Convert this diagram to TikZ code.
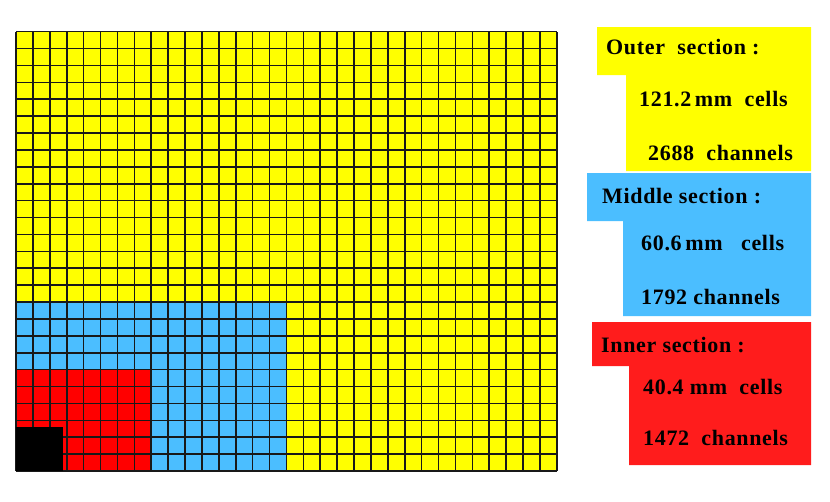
\documentclass[tikz,border=0pt]{standalone}
\usepackage{fontspec}
\setmainfont{Liberation Serif}
\newfontfamily\lblfont[LetterSpace=3]{Liberation Serif}
\definecolor{cyel}{RGB}{255,255,0}
\definecolor{cblu}{RGB}{75,190,255}
\definecolor{cred}{RGB}{255,0,0}
\definecolor{lred}{RGB}{255,28,28}
\begin{document}
\begin{tikzpicture}[x=1pt,y=-1pt,
  gl/.style={line width=1.6pt,black!90},
  lbl/.style={anchor=west,inner sep=0pt,font=\lblfont\bfseries\fontsize{22}{26}\selectfont}]
\useasboundingbox (0,0) rectangle (830,501);
\def\cs{16.9}
% detector regions
\fill[cyel] (16,471) rectangle ++({32*\cs},{-26*\cs});
\fill[cblu] (16,471) rectangle ++({16*\cs},{-10*\cs});
\fill[cred] (16,471) rectangle ++({8*\cs},{-6*\cs});
% grid
\foreach \i in {0,...,32}
  \draw[gl] ({16+\i*\cs},471) -- ({16+\i*\cs},{471-26*\cs});
\foreach \j in {0,...,26}
  \draw[gl] (16,{471-\j*\cs}) -- ({16+32*\cs},{471-\j*\cs});
% beam hole
\fill[black] (16,427) rectangle (63,471);
% legend boxes
\fill[cyel] (597,27) -- (811,27) -- (811,171) -- (626,171) -- (626,75) -- (597,75) -- cycle;
\fill[cblu] (587,173) -- (811,173) -- (811,316) -- (623,316) -- (623,221) -- (587,221) -- cycle;
\fill[lred] (592,322) -- (811,322) -- (811,465) -- (629,465) -- (629,366) -- (592,366) -- cycle;
% texts
\node[lbl] (o1) at (606,47) {Outer\ \ section\ :};
\node[lbl] (o2) at (639,99) {121.2\,mm\ \ cells};
\node[lbl] (o3) at (648,153) {2688\ \ channels};
\node[lbl] (m1) at (602,196) {Middle section\ :};
\node[lbl] (m2) at (641,243) {60.6\,mm\ \ \ cells};
\node[lbl] (m3) at (641,297) {1792 channels};
\node[lbl] (i1) at (601,345) {Inner section :};
\node[lbl] (i2) at (643,387) {40.4 mm\ \ cells};
\node[lbl] (i3) at (643,438) {1472\ \ channels};
\end{tikzpicture}
\end{document}
